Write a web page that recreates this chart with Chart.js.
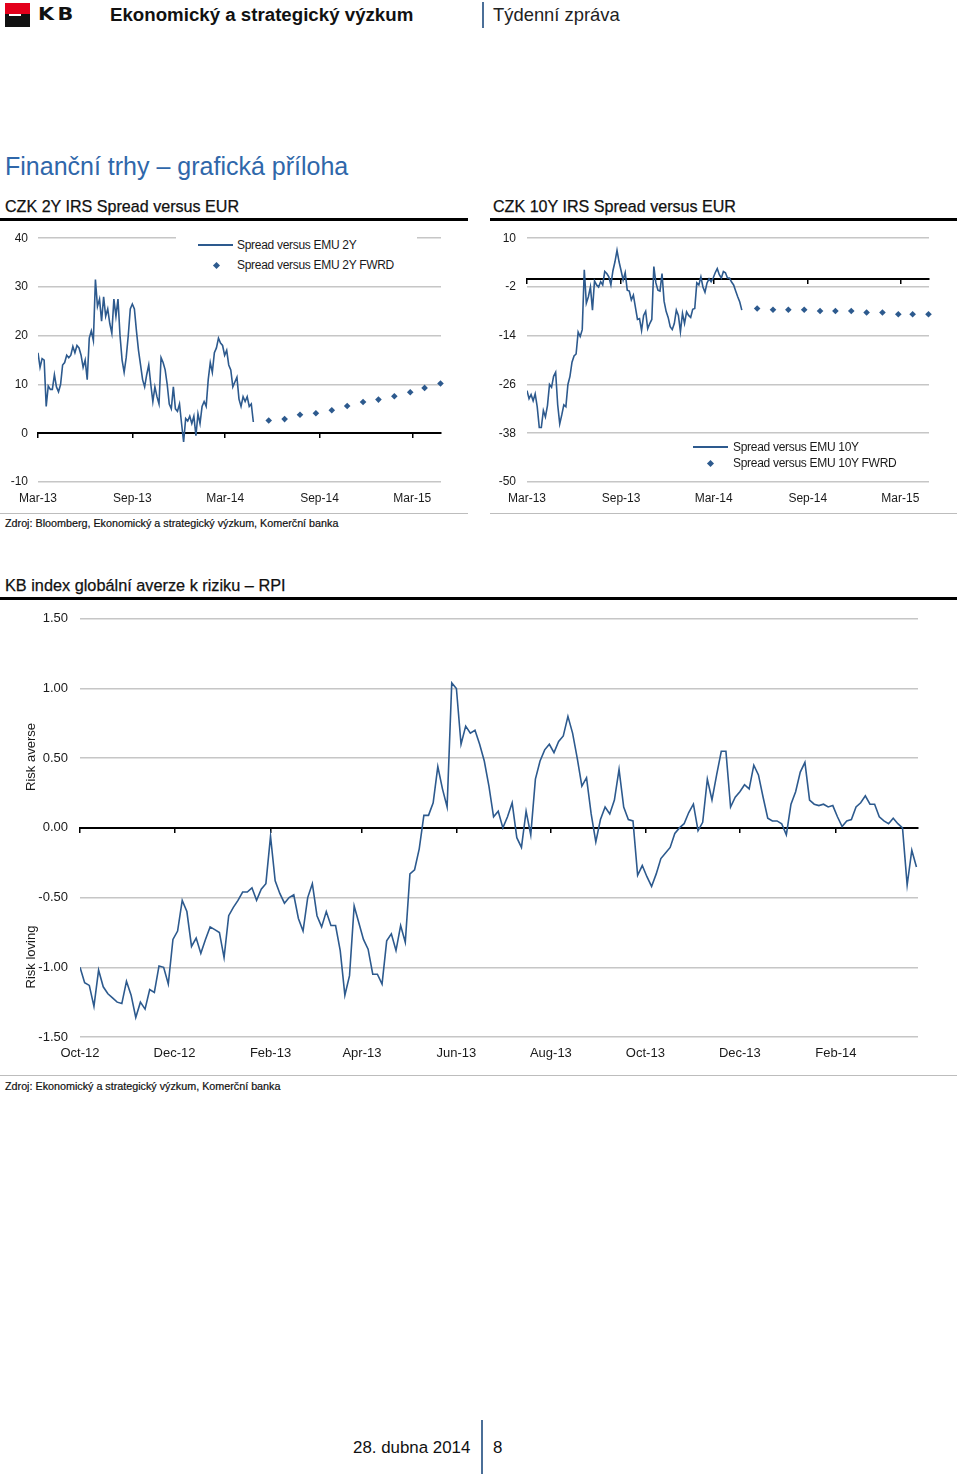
<!DOCTYPE html>
<html>
<head>
<meta charset="utf-8">
<script src="https://cdn.jsdelivr.net/npm/chart.js@4.4.1/dist/chart.umd.min.js"></script>
<style>
html,body{margin:0;padding:0;background:#fff;}
body{width:960px;height:1475px;position:relative;overflow:hidden;font-family:"Liberation Sans",Arial,Helvetica,sans-serif;color:#1a1a1a;}
.abs{position:absolute;white-space:nowrap;}
.cw{position:absolute;}
.cw canvas{display:block;}
.rule{position:absolute;background:#000;}
.grayrule{position:absolute;background:#bdbdbd;height:1px;}
.ctitle{position:absolute;white-space:nowrap;font-size:16.1px;color:#111;line-height:20px;-webkit-text-stroke:0.25px #111;}
.src{position:absolute;white-space:nowrap;font-size:10.75px;color:#111;line-height:14px;-webkit-text-stroke:0.2px #111;}
.leg{position:absolute;font-size:12px;letter-spacing:-0.3px;color:#1a1a1a;line-height:14px;white-space:nowrap;}
.legline{position:absolute;height:2px;background:#2d5a8e;}
.legdia{position:absolute;width:5px;height:5px;background:#2d5a8e;transform:rotate(45deg);}
.ytitle{position:absolute;font-size:13px;color:#1a1a1a;transform:translate(-50%,-50%) rotate(-90deg);white-space:nowrap;}
</style>
</head>
<body>

<!-- header -->
<div class="abs" style="left:5px;top:3px;width:25px;height:11px;background:#e3001b;"></div>
<div class="abs" style="left:5px;top:14px;width:25px;height:13px;background:#111;"></div>
<div class="abs" style="left:9px;top:14px;width:12px;height:1.5px;background:#fff;"></div>
<div class="abs" style="left:38px;top:3px;font-family:'DejaVu Sans',sans-serif;font-weight:bold;font-size:18px;letter-spacing:3px;color:#111;line-height:22px;transform:scaleX(1.15);transform-origin:0 50%;">KB</div>
<div class="abs" style="left:110px;top:4px;font-weight:bold;font-size:18.7px;color:#111;line-height:22px;">Ekonomický a strategický výzkum</div>
<div class="abs" style="left:482px;top:2px;width:2px;height:26px;background:#4b6f98;"></div>
<div class="abs" style="left:493px;top:4px;font-size:18.4px;color:#222;line-height:22px;">Týdenní zpráva</div>

<div class="abs" style="left:5px;top:151px;font-size:25px;color:#2f67aa;line-height:30px;">Finanční trhy – grafická příloha</div>

<!-- chart titles -->
<div class="ctitle" style="left:5px;top:196px;">CZK 2Y IRS Spread versus EUR</div>
<div class="rule" style="left:0;top:218px;width:468px;height:3px;"></div>
<div class="ctitle" style="left:493px;top:196px;">CZK 10Y IRS Spread versus EUR</div>
<div class="rule" style="left:490px;top:218px;width:467px;height:3px;"></div>

<div class="cw" style="left:0;top:221px;width:470px;height:290px;"><canvas id="c2y" width="470" height="290"></canvas></div>
<div class="cw" style="left:490px;top:220px;width:470px;height:291px;"><canvas id="c10y" width="470" height="291"></canvas></div>

<!-- legend chart 1 (white box over the top gridline) -->
<div class="abs" style="left:176px;top:230px;width:241px;height:46px;background:#fff;"></div>
<div class="legline" style="left:198px;top:244px;width:35px;"></div>
<div class="leg" style="left:237px;top:238px;">Spread versus EMU 2Y</div>
<div class="legdia" style="left:213.5px;top:262.5px;"></div>
<div class="leg" style="left:237px;top:258px;">Spread versus EMU 2Y FWRD</div>

<!-- legend chart 2 -->
<div class="legline" style="left:693px;top:446px;width:35px;"></div>
<div class="leg" style="left:733px;top:440px;">Spread versus EMU 10Y</div>
<div class="legdia" style="left:707.5px;top:460.5px;"></div>
<div class="leg" style="left:733px;top:456px;">Spread versus EMU 10Y FWRD</div>

<div class="grayrule" style="left:0;top:513px;width:468px;"></div>
<div class="grayrule" style="left:490px;top:513px;width:467px;"></div>
<div class="src" style="left:5px;top:516px;">Zdroj: Bloomberg, Ekonomický a strategický výzkum, Komerční banka</div>

<!-- RPI -->
<div class="ctitle" style="left:5px;top:575px;font-size:16.3px;">KB index globální averze k riziku – RPI</div>
<div class="rule" style="left:0;top:597px;width:957px;height:3px;"></div>
<div class="cw" style="left:0;top:599px;width:960px;height:467px;"><canvas id="crpi" width="960" height="467"></canvas></div>
<div class="ytitle" style="left:30px;top:757px;">Risk averse</div>
<div class="ytitle" style="left:30px;top:957px;">Risk loving</div>
<div class="grayrule" style="left:0;top:1075px;width:957px;"></div>
<div class="src" style="left:5px;top:1079px;">Zdroj: Ekonomický a strategický výzkum, Komerční banka</div>

<!-- footer -->
<div class="abs" style="left:353px;top:1437px;font-size:16.9px;color:#111;line-height:22px;">28. dubna 2014</div>
<div class="abs" style="left:481px;top:1420px;width:2px;height:54px;background:#4b6f98;"></div>
<div class="abs" style="left:493px;top:1437px;font-size:16.9px;color:#111;line-height:22px;">8</div>

<script>
// ---------------- DATA ----------------
// CZK 2Y / 10Y spread charts (dates)
const spreadOrigin = '2013-03-01';
const spreadAxisEnd = '2015-04-26';
const spreadStart = '2013-03-01';
const spreadStepDays = 4;
const spreadTickDates = ['2013-03-01','2013-09-01','2014-03-01','2014-09-01','2015-03-01'];
const spreadTickLabels = ['Mar-13','Sep-13','Mar-14','Sep-14','Mar-15'];

const spread2y = [16.5,13.5,15.3,15,5.5,9.7,9,9,12,9.5,8.5,10,14,14.5,16,15.5,16,17.8,16.5,18,
  17.5,16,13.5,15,11,19.5,21,19,31.5,26,27.5,23,28,24,25.5,22.5,20.5,27.5,24,27.5,
  20,15,12.5,15.5,20,25.5,26.5,25.5,21,17,14,11,9.5,12,14,10,6.5,9.5,7.5,6,
  15.5,14.5,13,10,6,5,9.5,5,4.5,6,2,-1.8,3,2.5,3.5,2,3.5,-0.5,4,2,
  5.5,6.5,5.5,11,14.5,12.5,16.5,17.5,19.5,18.5,18,16,17,14,13,9.5,10.5,11.5,7,5.5,
  7.5,6.5,7.5,5.5,6,2.3];

const spread10y = [-27.5,-29.5,-28.5,-30,-28.3,-31.5,-36.6,-36.6,-32.4,-34,-31.2,-26,-26.7,-24,-23,-31,-35.7,-33.5,-31,-31.5,
  -26,-24,-20.5,-19,-18.5,-13.1,-14.2,-12.5,2.2,-6,-4.4,-2,-7.7,-0.5,-1.5,-2,-0.7,-1.5,1.8,1.3,
  0.5,-1.5,2,4.2,7,4.2,2,-0.3,1.5,-2.8,-3,-5.2,-4,-7,-10,-9.8,-12.7,-9,-8,-12.3,
  -11,-10,3,-1,-2.8,-3,1.3,-5.5,-8,-9.5,-11.8,-12.5,-11,-7.7,-9,-13,-8.5,-11,-8.1,-9,
  -9.5,-7.5,-7.3,-1,-1.5,0.5,-2,-3.3,-1,0,-0.7,0.2,1.5,2.5,1,0.2,1.8,1.5,0.2,0.2,
  -0.8,-1.5,-3,-4.4,-5.7,-7.7];

const forwardDates = ['2014-05-25','2014-06-25','2014-07-25','2014-08-25','2014-09-25','2014-10-25',
  '2014-11-25','2014-12-25','2015-01-25','2015-02-25','2015-03-25','2015-04-25'];
const forward2y = [2.6,2.9,3.8,4.1,4.7,5.6,6.4,6.9,7.6,8.4,9.3,10.2];
const forward10y = [-7.3,-7.6,-7.6,-7.6,-7.9,-7.9,-7.9,-8.3,-8.3,-8.7,-8.7,-8.7];

// RPI chart
const rpiOrigin = '2012-10-01';
const rpiAxisEnd = '2014-03-26';
const rpiStart = '2012-10-01';
const rpiStepDays = 3;
const rpiTickDates = ['2012-10-01','2012-12-01','2013-02-01','2013-04-01','2013-06-01','2013-08-01','2013-10-01','2013-12-01','2014-02-01'];
const rpiTickLabels = ['Oct-12','Dec-12','Feb-13','Apr-13','Jun-13','Aug-13','Oct-13','Dec-13','Feb-14'];
const rpi = [-1.00,-1.11,-1.13,-1.28,-1.02,-1.14,-1.19,-1.22,-1.25,-1.26,
  -1.10,-1.20,-1.36,-1.25,-1.30,-1.16,-1.18,-0.99,-1.00,-1.12,
  -0.80,-0.74,-0.52,-0.60,-0.85,-0.79,-0.90,-0.80,-0.71,-0.73,
  -0.75,-0.93,-0.63,-0.57,-0.52,-0.46,-0.46,-0.43,-0.52,-0.44,
  -0.40,-0.06,-0.38,-0.47,-0.54,-0.50,-0.48,-0.65,-0.74,-0.50,
  -0.40,-0.63,-0.71,-0.60,-0.70,-0.70,-0.88,-1.20,-1.06,-0.56,
  -0.68,-0.80,-0.87,-1.05,-1.05,-1.12,-0.81,-0.76,-0.88,-0.70,
  -0.82,-0.33,-0.30,-0.15,0.09,0.09,0.18,0.44,0.28,0.15,
  1.04,1.00,0.60,0.73,0.68,0.70,0.60,0.48,0.30,0.08,
  0.12,0.00,0.08,0.18,-0.07,-0.14,0.12,-0.05,0.35,0.48,
  0.56,0.60,0.54,0.62,0.66,0.80,0.68,0.50,0.30,0.36,
  0.10,-0.10,0.06,0.15,0.10,0.20,0.42,0.15,0.06,0.05,
  -0.34,-0.27,-0.35,-0.42,-0.33,-0.22,-0.18,-0.14,-0.04,0.00,
  0.03,0.11,0.17,-0.02,0.04,0.35,0.20,0.38,0.55,0.55,
  0.15,0.22,0.26,0.31,0.28,0.45,0.38,0.22,0.07,0.05,
  0.05,0.03,-0.05,0.17,0.26,0.40,0.47,0.20,0.17,0.16,
  0.17,0.15,0.16,0.08,0.01,0.05,0.06,0.15,0.18,0.23,
  0.17,0.17,0.08,0.05,0.03,0.07,0.03,0.00,-0.41,-0.16,
  -0.28];

// ---------------- BUILD ----------------
const LINE = '#2d5a8e';
const GRID = '#c6c6c6';
const TXT = '#1a1a1a';
Chart.defaults.font.family = '"Liberation Sans", Arial, Helvetica, sans-serif';
Chart.defaults.color = TXT;

function dayOf(s, origin) { return Math.round((Date.parse(s) - Date.parse(origin)) / 86400000); }
function seriesPoints(vals, start, step, origin) {
  const s0 = dayOf(start, origin);
  return vals.map((v, i) => ({ x: s0 + i * step, y: v }));
}
function datedPoints(dates, vals, origin) {
  return dates.map((d, i) => ({ x: dayOf(d, origin), y: vals[i] }));
}

function timeAxes(origin, axisEnd, tickDates, tickLabels, opt) {
  const tickDays = tickDates.map(d => dayOf(d, origin));
  const max = dayOf(axisEnd, origin);
  const setTicks = s => { s.ticks = tickDays.map(v => ({ value: v })); };
  return {
    x: {
      type: 'linear', position: 'bottom', min: 0, max: max,
      afterBuildTicks: setTicks,
      afterFit: s => { s.height = opt.xHeight; },
      ticks: { autoSkip: false, maxRotation: 0, padding: opt.xPad, color: TXT,
        font: { size: opt.xFont }, callback: (v, i) => tickLabels[i] },
      grid: { display: false, drawTicks: false, tickLength: 0 }, border: { display: false }
    },
    x0: {
      type: 'linear', position: { y: 0 }, min: 0, max: max,
      afterBuildTicks: setTicks,
      ticks: { display: false, autoSkip: false },
      grid: { drawOnChartArea: false, drawTicks: true, tickLength: 4, color: '#000', lineWidth: 1.5 },
      border: { display: true, color: '#000', width: 2 }
    }
  };
}

function spreadChart(id, hist, fwd, yMin, yMax, yStep, yWidth, yPad, padRight) {
  const axes = timeAxes(spreadOrigin, spreadAxisEnd, spreadTickDates, spreadTickLabels, { xHeight: 29, xPad: 9, xFont: 12 });
  axes.y = {
    type: 'linear', min: yMin, max: yMax,
    afterBuildTicks: s => { const t = []; for (let v = yMin; v <= yMax + 1e-9; v += yStep) t.push({ value: v }); s.ticks = t; },
    afterFit: s => { s.width = yWidth; },
    ticks: { padding: yPad, color: TXT, font: { size: 12 } },
    grid: { color: GRID, lineWidth: 1.5, drawTicks: false },
    border: { display: false }
  };
  return new Chart(document.getElementById(id), {
    type: 'line',
    data: {
      datasets: [
        { data: seriesPoints(hist, spreadStart, spreadStepDays, spreadOrigin), borderColor: LINE, borderWidth: 1.6,
          pointRadius: 0, tension: 0, xAxisID: 'x', yAxisID: 'y' },
        { data: datedPoints(forwardDates, fwd, spreadOrigin), showLine: false, pointStyle: 'rectRot', pointRadius: 3.3,
          backgroundColor: LINE, borderColor: LINE, borderWidth: 0, xAxisID: 'x', yAxisID: 'y', clip: false }
      ]
    },
    options: {
      responsive: false, animation: false, devicePixelRatio: 1,
      layout: { padding: { top: 4, right: padRight, left: 0, bottom: 0 } },
      plugins: { legend: { display: false }, tooltip: { enabled: false } },
      scales: axes
    }
  });
}

spreadChart('c2y', spread2y, forward2y, -10, 40, 10, 38, 10, 29);
spreadChart('c10y', spread10y, forward10y, -50, 10, 12, 37, 11, 31);

// RPI
(function () {
  const axes = timeAxes(rpiOrigin, rpiAxisEnd, rpiTickDates, rpiTickLabels, { xHeight: 29, xPad: 9, xFont: 13 });
  axes.y = {
    type: 'linear', min: -1.5, max: 1.5,
    ticks: { stepSize: 0.5, padding: 12, color: TXT, font: { size: 13 }, callback: v => Number(v).toFixed(2) },
    afterFit: s => { s.width = 80; },
    grid: { color: GRID, lineWidth: 1.5, drawTicks: false },
    border: { display: false }
  };
  new Chart(document.getElementById('crpi'), {
    type: 'line',
    data: {
      datasets: [
        { data: seriesPoints(rpi, rpiStart, rpiStepDays, rpiOrigin), borderColor: LINE, borderWidth: 1.6,
          pointRadius: 0, tension: 0, xAxisID: 'x', yAxisID: 'y' }
      ]
    },
    options: {
      responsive: false, animation: false, devicePixelRatio: 1,
      layout: { padding: { top: 4, right: 42, left: 0, bottom: 0 } },
      plugins: { legend: { display: false }, tooltip: { enabled: false } },
      scales: axes
    }
  });
})();
</script>
</body>
</html>
